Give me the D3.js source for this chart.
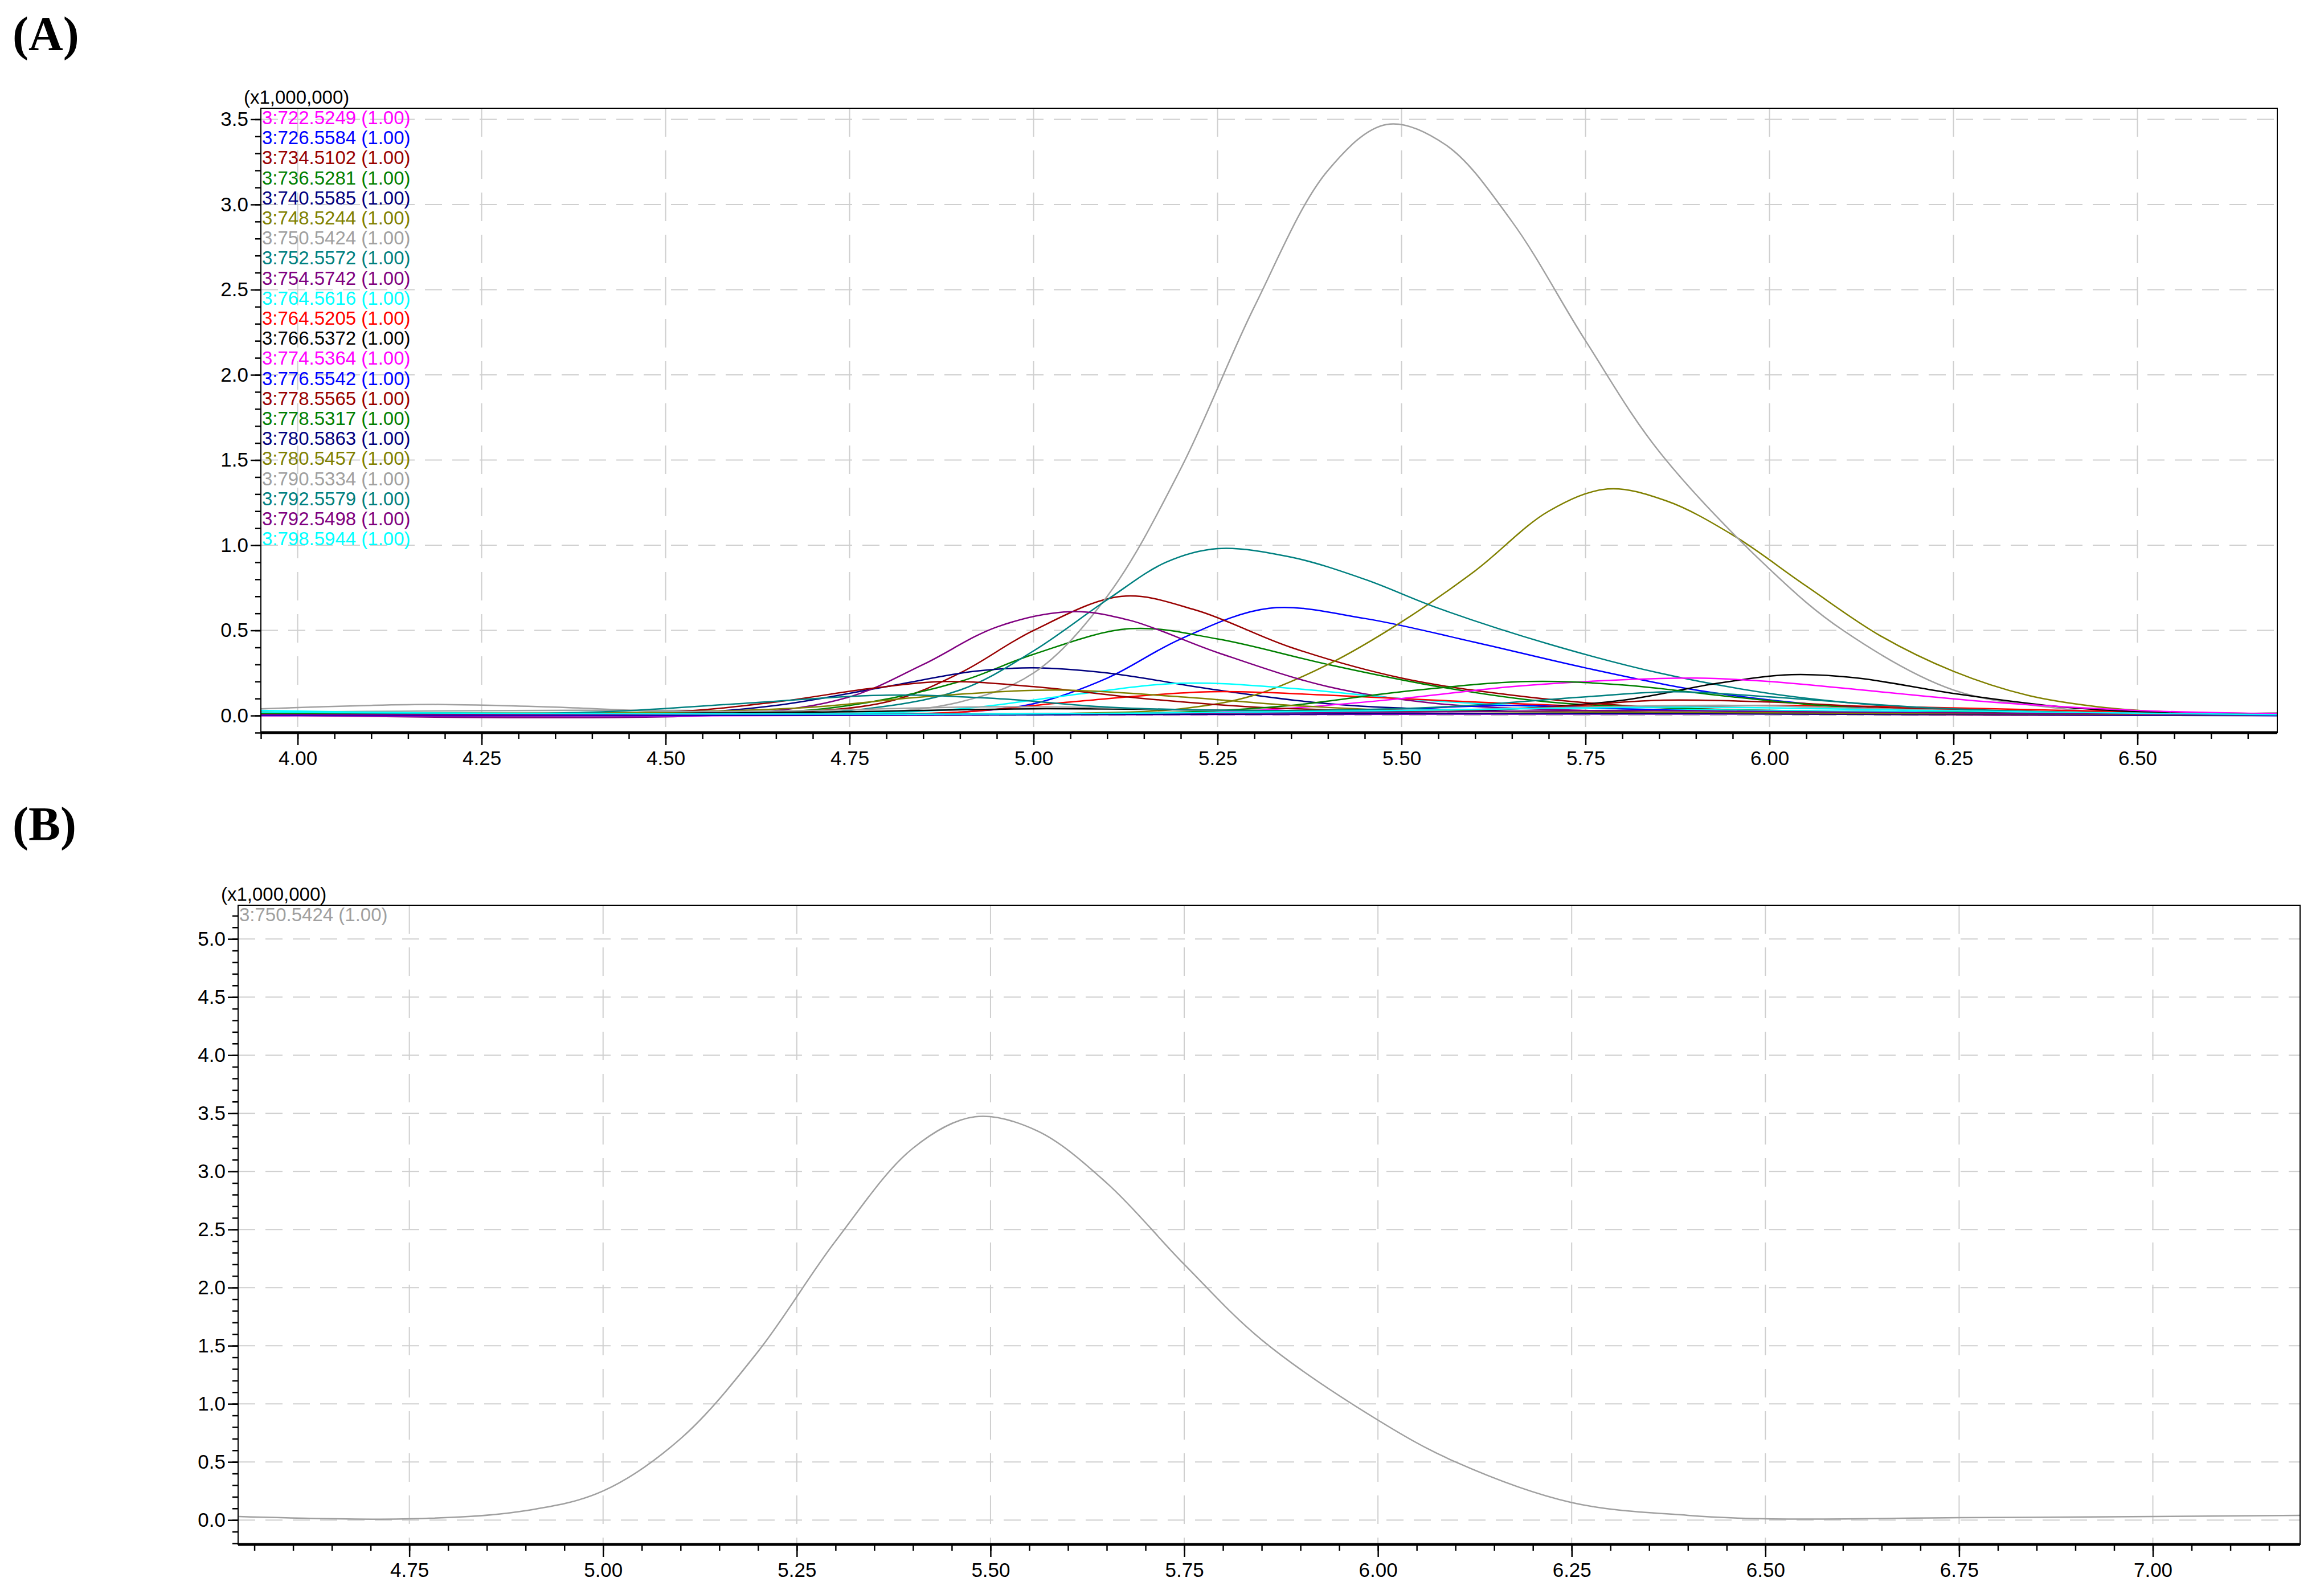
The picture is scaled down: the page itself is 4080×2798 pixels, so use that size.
<!DOCTYPE html>
<html>
<head>
<meta charset="utf-8">
<script src="https://cdn.jsdelivr.net/npm/d3@7"></script>
<style>
  body { margin: 0; background: #fff; }
  text { font-family: "Liberation Sans Narrow", "Liberation Sans", Arial, sans-serif; }
  .panel-label { font-family: "Liberation Serif", "Times New Roman", serif; font-weight: bold; }
</style>
</head>
<body>
<svg id="chart" width="4080" height="2798"></svg>
<script>
// series names and colours (legend order)
const seriesNames = ["3:722.5249 (1.00)", "3:726.5584 (1.00)", "3:734.5102 (1.00)", "3:736.5281 (1.00)",
  "3:740.5585 (1.00)", "3:748.5244 (1.00)", "3:750.5424 (1.00)", "3:752.5572 (1.00)", "3:754.5742 (1.00)",
  "3:764.5616 (1.00)", "3:764.5205 (1.00)", "3:766.5372 (1.00)", "3:774.5364 (1.00)", "3:776.5542 (1.00)",
  "3:778.5565 (1.00)", "3:778.5317 (1.00)", "3:780.5863 (1.00)", "3:780.5457 (1.00)", "3:790.5334 (1.00)",
  "3:792.5579 (1.00)", "3:792.5498 (1.00)", "3:798.5944 (1.00)"];
const seriesColors = ["#ff00ff", "#0000ff", "#990000", "#008000", "#000080", "#808000", "#a0a0a0", "#008080",
  "#800080", "#00ffff", "#ff0000", "#000000", "#ff00ff", "#0000ff", "#990000", "#008000", "#000080", "#808000",
  "#a0a0a0", "#008080", "#800080", "#00ffff"];

// [retention time, intensity x1,000,000]
const s722 = [[3.95,0.0],[4.5,0.003],[5.0,0.005],[5.5,0.008],[6.0,0.01],[6.69,0.005]];
const s726 = [[3.95,0.003],[4.75,0.005],[4.9,0.02],[5.0,0.07],[5.1,0.22],[5.2,0.45],[5.32,0.63],[5.45,0.57],[5.6,0.43],[5.75,0.28],[5.9,0.15],[6.05,0.07],[6.25,0.02],[6.69,0.005]];
const s734 = [[3.95,0.005],[4.6,0.01],[4.8,0.08],[4.9,0.25],[5.0,0.5],[5.12,0.7],[5.22,0.62],[5.35,0.4],[5.5,0.22],[5.65,0.12],[5.8,0.06],[6.0,0.03],[6.69,0.005]];
const s736 = [[3.95,0.005],[4.6,0.01],[4.75,0.06],[4.9,0.2],[5.0,0.36],[5.13,0.51],[5.25,0.45],[5.4,0.3],[5.55,0.17],[5.7,0.08],[5.9,0.04],[6.2,0.02],[6.69,0.005]];
const s740 = [[3.95,0.005],[4.5,0.01],[4.65,0.06],[4.8,0.17],[4.92,0.26],[5.0,0.28],[5.1,0.25],[5.25,0.15],[5.4,0.07],[5.6,0.03],[6.0,0.01],[6.69,0.0]];
const s748 = [[3.95,0.02],[4.5,0.01],[5.0,0.01],[5.2,0.04],[5.3,0.12],[5.4,0.3],[5.5,0.55],[5.6,0.85],[5.7,1.2],[5.78,1.33],[5.86,1.26],[5.95,1.06],[6.05,0.76],[6.15,0.47],[6.25,0.26],[6.35,0.12],[6.45,0.05],[6.55,0.02],[6.69,0.01]];
const s750 = [[3.95,0.02],[4.53,0.03],[4.75,0.01],[4.9,0.08],[5.0,0.25],[5.1,0.7],[5.2,1.45],[5.3,2.4],[5.4,3.2],[5.48,3.47],[5.56,3.35],[5.65,2.9],[5.75,2.2],[5.85,1.55],[6.0,0.86],[6.1,0.5],[6.25,0.15],[6.4,0.04],[6.5,0.01],[6.75,0.02],[7.0,0.03],[7.19,0.04]];
const s752 = [[3.95,0.01],[4.5,0.01],[4.75,0.03],[4.9,0.15],[5.0,0.38],[5.1,0.68],[5.18,0.9],[5.25,0.98],[5.35,0.93],[5.45,0.8],[5.55,0.63],[5.7,0.42],[5.85,0.25],[6.0,0.13],[6.15,0.06],[6.3,0.025],[6.69,0.005]];
const s754 = [[3.95,0.005],[4.6,0.01],[4.75,0.11],[4.85,0.3],[4.95,0.52],[5.05,0.61],[5.13,0.56],[5.25,0.37],[5.4,0.17],[5.55,0.07],[5.75,0.03],[6.0,0.01],[6.69,0.0]];
const s764a = [[3.95,0.03],[4.2,0.015],[4.7,0.01],[4.9,0.04],[5.05,0.12],[5.2,0.19],[5.35,0.16],[5.5,0.1],[5.7,0.05],[6.0,0.03],[6.3,0.02],[6.69,0.005]];
const s764b = [[3.95,0.0],[4.7,0.005],[4.9,0.02],[5.05,0.08],[5.24,0.14],[5.4,0.12],[5.6,0.08],[5.8,0.05],[6.0,0.06],[6.2,0.05],[6.4,0.03],[6.69,0.01]];
const s766 = [[3.95,0.01],[4.7,0.02],[5.0,0.04],[5.3,0.03],[5.6,0.03],[5.8,0.09],[5.93,0.19],[6.03,0.24],[6.12,0.22],[6.25,0.13],[6.4,0.05],[6.55,0.015],[6.69,0.005]];
const s774 = [[3.95,0.0],[5.0,0.005],[5.3,0.03],[5.5,0.1],[5.65,0.17],[5.8,0.21],[5.9,0.22],[6.0,0.2],[6.15,0.14],[6.3,0.08],[6.5,0.03],[6.69,0.01]];
const s776 = [[3.95,0.0],[5.0,0.005],[5.3,0.02],[5.5,0.04],[5.65,0.06],[5.8,0.04],[6.0,0.02],[6.69,0.0]];
const s778a = [[3.95,0.01],[4.5,0.02],[4.65,0.08],[4.78,0.16],[4.88,0.2],[5.0,0.17],[5.15,0.1],[5.3,0.05],[5.5,0.03],[5.7,0.05],[5.85,0.09],[6.0,0.08],[6.2,0.04],[6.69,0.005]];
const s778b = [[3.95,0.01],[4.8,0.01],[5.2,0.02],[5.35,0.06],[5.5,0.14],[5.67,0.2],[5.8,0.18],[5.95,0.11],[6.1,0.05],[6.3,0.02],[6.69,0.005]];
const s780a = [[3.95,0.005],[5.0,0.005],[5.5,0.01],[6.0,0.01],[6.69,0.003]];
const s780b = [[3.95,0.02],[4.5,0.02],[4.7,0.05],[4.85,0.11],[5.03,0.15],[5.2,0.11],[5.35,0.06],[5.5,0.03],[5.8,0.02],[6.69,0.005]];
const s790 = [[3.95,0.04],[4.1,0.06],[4.2,0.065],[4.35,0.05],[4.5,0.025],[4.7,0.03],[4.9,0.05],[5.05,0.05],[5.25,0.03],[5.5,0.03],[5.75,0.05],[5.95,0.06],[6.15,0.04],[6.4,0.015],[6.69,0.005]];
const s792a = [[3.95,0.02],[4.4,0.02],[4.6,0.07],[4.8,0.12],[4.95,0.1],[5.1,0.05],[5.3,0.03],[5.55,0.05],[5.75,0.11],[5.87,0.14],[6.0,0.11],[6.2,0.05],[6.4,0.02],[6.69,0.005]];
const s792b = [[3.95,0.005],[5.0,0.01],[5.5,0.02],[5.8,0.03],[6.1,0.02],[6.69,0.005]];
const s798 = [[3.95,0.02],[4.5,0.01],[5.0,0.01],[5.5,0.03],[5.9,0.05],[6.2,0.03],[6.69,0.005]];

const seriesA = [s722, s726, s734, s736, s740, s748, s750, s752, s754, s764a, s764b, s766,
  s774, s776, s778a, s778b, s780a, s780b, s790, s792a, s792b, s798];

const xTicksA = [4.00, 4.25, 4.50, 4.75, 5.00, 5.25, 5.50, 5.75, 6.00, 6.25, 6.50];
const yTicksA = [0.0, 0.5, 1.0, 1.5, 2.0, 2.5, 3.0, 3.5];
const xTicksB = [4.75, 5.00, 5.25, 5.50, 5.75, 6.00, 6.25, 6.50, 6.75, 7.00];
const yTicksB = [0.0, 0.5, 1.0, 1.5, 2.0, 2.5, 3.0, 3.5, 4.0, 4.5, 5.0];

const svg = d3.select('#chart');

function drawPanel(cfg) {
  const w = cfg.right - cfg.left, h = cfg.bottom - cfg.top;
  const g = svg.append('g').attr('transform', `translate(${cfg.left},${cfg.top})`);
  const x = d3.scaleLinear().domain(cfg.xDomain).range([0, w]);
  const y = d3.scaleLinear().domain(cfg.yDomain).range([h, 0]);

  // grid
  g.selectAll('.vgrid').data(cfg.xTicks).join('line')
    .attr('x1', d => x(d)).attr('x2', d => x(d)).attr('y1', 0).attr('y2', h)
    .attr('stroke', '#cfcfcf').attr('stroke-width', 2).attr('stroke-dasharray', '50,24');
  g.selectAll('.hgrid').data(cfg.yTicks).join('line')
    .attr('x1', 0).attr('x2', w).attr('y1', d => y(d)).attr('y2', d => y(d))
    .attr('stroke', '#cfcfcf').attr('stroke-width', 2).attr('stroke-dasharray', '30,18');

  // curves
  const line = d3.line().x(d => x(d[0])).y(d => y(d[1])).curve(d3.curveCatmullRom.alpha(0.5));
  g.append('clipPath').attr('id', 'clip' + cfg.id).append('rect').attr('width', w).attr('height', h);
  g.append('g').attr('clip-path', `url(#clip${cfg.id})`)
    .selectAll('path').data(cfg.series).join('path')
    .attr('d', d => line(d.values)).attr('fill', 'none')
    .attr('stroke', d => d.color).attr('stroke-width', 2.5);

  // frame
  g.append('rect').attr('width', w).attr('height', h).attr('fill', 'none')
    .attr('stroke', '#000').attr('stroke-width', 2);
  g.append('line').attr('x1', 0).attr('x2', w).attr('y1', h).attr('y2', h)
    .attr('stroke', '#000').attr('stroke-width', 5);

  // axes
  const xMinor = d3.axisBottom(x).tickValues(d3.range(Math.ceil(cfg.xDomain[0] / 0.05) * 0.05, cfg.xDomain[1], 0.05))
    .tickSize(11).tickFormat('');
  g.append('g').attr('transform', `translate(0,${h})`).call(xMinor)
    .call(a => a.select('.domain').remove())
    .call(a => a.selectAll('line').attr('stroke-width', 2.5));
  const xAxis = d3.axisBottom(x).tickValues(cfg.xTicks).tickSize(22).tickPadding(10).tickFormat(d3.format('.2f'));
  g.append('g').attr('transform', `translate(0,${h})`).call(xAxis)
    .call(a => a.select('.domain').remove())
    .call(a => a.selectAll('line').attr('stroke-width', 2.5))
    .call(a => a.selectAll('text').attr('font-size', 35).attr('fill', '#000'));

  const yMinor = d3.axisLeft(y).tickValues(d3.range(Math.ceil(cfg.yDomain[0] / 0.1) * 0.1, cfg.yDomain[1], 0.1))
    .tickSize(10).tickFormat('');
  g.append('g').call(yMinor)
    .call(a => a.select('.domain').remove())
    .call(a => a.selectAll('line').attr('stroke-width', 2.5));
  const yAxis = d3.axisLeft(y).tickValues(cfg.yTicks).tickSize(18).tickPadding(4).tickFormat(d3.format('.1f'));
  g.append('g').call(yAxis)
    .call(a => a.select('.domain').remove())
    .call(a => a.selectAll('line').attr('stroke-width', 2.5))
    .call(a => a.selectAll('text').attr('font-size', 35).attr('fill', '#000'));

  g.append('text').attr('x', -30).attr('y', -8).attr('font-size', 33).text('(x1,000,000)');

  // legend
  g.selectAll('.legend').data(cfg.series).join('text')
    .attr('x', 2).attr('y', (d, i) => 28 + i * 35.2)
    .attr('font-size', 33).attr('fill', d => d.color).text(d => d.name);

  svg.append('text').attr('class', 'panel-label').attr('x', cfg.labelX).attr('y', cfg.labelY)
    .attr('font-size', 84).text(cfg.label);
}

drawPanel({
  id: 'A', label: '(A)', labelX: 22, labelY: 88,
  left: 458, right: 3998, top: 190, bottom: 1286,
  xDomain: [3.95, 6.69], yDomain: [-0.1, 3.565],
  xTicks: xTicksA, yTicks: yTicksA,
  series: seriesA.map((v, i) => ({values: v, name: seriesNames[i], color: seriesColors[i]}))
});

drawPanel({
  id: 'B', label: '(B)', labelX: 22, labelY: 1475,
  left: 418, right: 4038, top: 1589, bottom: 2711,
  xDomain: [4.529, 7.19], yDomain: [-0.21, 5.29],
  xTicks: xTicksB, yTicks: yTicksB,
  series: [{values: s750.filter(d => d[0] >= 4.5), name: seriesNames[6], color: seriesColors[6]}]
});
</script>
</body>
</html>
